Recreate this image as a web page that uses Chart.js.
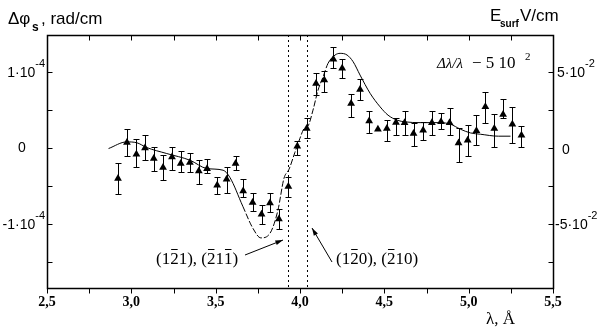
<!DOCTYPE html>
<html>
<head>
<meta charset="utf-8">
<script src="https://cdn.jsdelivr.net/npm/chart.js@4"></script>
<style>
  body { margin: 0; background: #fff; }
  #wrap { width: 600px; height: 329px; }
</style>
</head>
<body>
<div id="wrap"><canvas id="c"></canvas></div>
<script>
// measured points, delta phi in units of 1e-4 rad/cm
const lambda = [2.921, 2.974, 3.030, 3.081, 3.133, 3.188, 3.241, 3.293, 3.347, 3.400, 3.449, 3.509, 3.565, 3.618, 3.663, 3.719, 3.772, 3.822, 3.875, 3.931, 3.984, 4.040, 4.095, 4.144, 4.198, 4.250, 4.303, 4.356, 4.410, 4.462, 4.515, 4.569, 4.620, 4.673, 4.730, 4.782, 4.836, 4.887, 4.940, 4.994, 5.046, 5.099, 5.152, 5.204, 5.259, 5.313];
const dphi = [-0.399, 0.075, -0.079, 0.004, -0.136, -0.254, -0.114, -0.201, -0.188, -0.299, -0.27, -0.487, -0.408, -0.201, -0.562, -0.714, -0.868, -0.72, -0.93, -0.504, 0.026, 0.259, 0.851, 0.895, 1.167, 1.049, 0.588, 0.772, 0.359, 0.25, 0.259, 0.338, 0.333, 0.193, 0.237, 0.333, 0.346, 0.333, 0.07, 0.105, 0.228, 0.543, 0.259, 0.443, 0.316, 0.171];
const errHi = [-0.197, 0.25, 0.118, 0.171, 0.017, -0.092, 0.017, -0.036, -0.062, -0.158, -0.138, -0.378, -0.246, -0.101, -0.404, -0.588, -0.75, -0.583, -0.793, -0.375, 0.092, 0.391, 0.983, 1.017, 1.333, 1.171, 0.711, 0.908, 0.491, 0.25, 0.368, 0.391, 0.491, 0.325, 0.346, 0.491, 0.464, 0.522, 0.272, 0.303, 0.434, 0.741, 0.447, 0.645, 0.543, 0.293];
const errLo = [-0.605, -0.105, -0.25, -0.158, -0.303, -0.412, -0.28, -0.312, -0.312, -0.474, -0.329, -0.605, -0.583, -0.289, -0.641, -0.825, -0.991, -0.838, -1.057, -0.641, -0.092, 0.132, 0.697, 0.741, 1.049, 0.917, 0.412, 0.632, 0.201, 0.25, 0.092, 0.171, 0.171, 0.026, 0.114, 0.171, 0.246, 0.171, -0.18, -0.105, 0.039, 0.325, 0.017, 0.395, 0.07, 0.017];

// calculated curve
const fitLambda = [2.865, 2.972, 3.032, 3.091, 3.210, 3.348, 3.448, 3.544, 3.584, 3.661, 3.721, 3.768, 3.822, 3.869, 3.905, 3.935, 3.970, 4.000, 4.024, 4.047, 4.077, 4.107, 4.137, 4.166, 4.208, 4.238, 4.279, 4.315, 4.356, 4.416, 4.475, 4.522, 4.576, 4.624, 4.713, 4.832, 4.891, 4.951, 5.010, 5.069, 5.176, 5.248];
const fitE = [-0.004, 0.083, 0.072, 0.009, -0.07, -0.158, -0.267, -0.289, -0.382, -0.763, -1.053, -1.178, -1.118, -0.816, -0.395, -0.276, -0.053, 0.132, 0.257, 0.289, 0.5, 0.763, 0.938, 1.114, 1.224, 1.246, 1.224, 1.136, 0.961, 0.72, 0.543, 0.434, 0.368, 0.346, 0.336, 0.336, 0.316, 0.25, 0.201, 0.184, 0.158, 0.158];

// axes
const xMajor = [2.5, 3.0, 3.5, 4.0, 4.5, 5.0, 5.5];
const xLabels = ['2,5', '3,0', '3,5', '4,0', '4,5', '5,0', '5,5'];
const xMinor = [2.75, 3.25, 3.75, 4.25, 4.75, 5.25];
const yMajor = [1, 0, -1];
const yBase = ['1·10', '0', '-1·10'];
const yExp = ['-4', '', '-4'];
const yMinor = [0.5, -0.5, -1.5];
const y2Major = [5, 0, -5];
const y2Base = ['5·10', '0', '-5·10'];
const y2Exp = ['-2', '', '-2'];
const y2Minor = [2.5, -2.5, -7.5];
const markerLines = [3.930, 4.039];

const points = lambda.map((x, i) => ({ x: x, y: dphi[i] }));
const curve = fitLambda.map((x, i) => ({ x: x, y: fitE[i] }));

function overText(ctx, parts, x, y) {
    let cx = x;
    parts.forEach(([t, bar]) => {
        const w = ctx.measureText(t).width;
        ctx.fillText(t, cx, y);
        if (bar) {
            ctx.beginPath();
            ctx.moveTo(cx + 1, y - 14.5);
            ctx.lineTo(cx + w - 1, y - 14.5);
            ctx.stroke();
        }
        cx += w;
    });
}

function arrow(ctx, x1, y1, x2, y2) {
    ctx.beginPath();
    ctx.moveTo(x1, y1);
    ctx.lineTo(x2, y2);
    ctx.stroke();
    const a = Math.atan2(y2 - y1, x2 - x1);
    ctx.beginPath();
    ctx.moveTo(x2, y2);
    ctx.lineTo(x2 - 8 * Math.cos(a - 0.3), y2 - 8 * Math.sin(a - 0.3));
    ctx.lineTo(x2 - 8 * Math.cos(a + 0.3), y2 - 8 * Math.sin(a + 0.3));
    ctx.closePath();
    ctx.fill();
}

const decor = {
    id: 'decor',
    beforeDatasetsDraw(chart) {
        const { ctx, chartArea: a, scales } = chart;
        const x = scales.x, y = scales.y;
        ctx.save();
        ctx.strokeStyle = '#000';
        ctx.lineWidth = 1;
        // dotted marker lines
        ctx.setLineDash([2, 3]);
        markerLines.forEach(v => {
            const px = Math.round(x.getPixelForValue(v)) + 0.5;
            ctx.beginPath();
            ctx.moveTo(px, a.top);
            ctx.lineTo(px, a.bottom);
            ctx.stroke();
        });
        ctx.setLineDash([]);
        // error bars
        lambda.forEach((v, i) => {
            if (errHi[i] === errLo[i]) return;
            const px = Math.round(x.getPixelForValue(v)) + 0.5;
            const t = Math.round(y.getPixelForValue(errHi[i])) + 0.5;
            const b = Math.round(y.getPixelForValue(errLo[i])) + 0.5;
            ctx.beginPath();
            ctx.moveTo(px, t); ctx.lineTo(px, b);
            ctx.moveTo(px - 3, t); ctx.lineTo(px + 3, t);
            ctx.moveTo(px - 3, b); ctx.lineTo(px + 3, b);
            ctx.stroke();
        });
        ctx.restore();
    },
    afterDraw(chart) {
        const { ctx, chartArea: a, scales } = chart;
        const x = scales.x, y = scales.y, y2 = scales.y2;
        ctx.save();
        ctx.strokeStyle = '#000';
        ctx.fillStyle = '#000';
        ctx.lineWidth = 1;
        const L = Math.round(a.left) + 0.5, R = Math.round(a.right) + 0.5;
        const T = Math.round(a.top) + 0.5, B = Math.round(a.bottom) + 0.5;
        ctx.lineWidth = 1.5;
        ctx.strokeRect(L, T, R - L, B - T);
        ctx.lineWidth = 1;

        ctx.beginPath();
        xMajor.concat(xMinor).forEach(v => {
            const px = Math.round(x.getPixelForValue(v)) + 0.5;
            ctx.moveTo(px, B); ctx.lineTo(px, B + 5);
            ctx.moveTo(px, T); ctx.lineTo(px, T + 5);
        });
        yMajor.concat(yMinor).forEach(v => {
            const py = Math.round(y.getPixelForValue(v)) + 0.5;
            ctx.moveTo(L, py); ctx.lineTo(L + 5, py);
        });
        y2Major.concat(y2Minor).forEach(v => {
            const py = Math.round(y2.getPixelForValue(v)) + 0.5;
            ctx.moveTo(R, py); ctx.lineTo(R - 5, py);
        });
        ctx.stroke();

        // x tick labels
        ctx.font = 'bold 14px "Liberation Serif", serif';
        ctx.textAlign = 'center';
        ctx.textBaseline = 'alphabetic';
        xMajor.forEach((v, i) => {
            ctx.fillText(xLabels[i], x.getPixelForValue(v), 306);
        });

        // left tick labels
        yMajor.forEach((v, i) => {
            const py = y.getPixelForValue(v);
            ctx.font = '14px "Liberation Sans", sans-serif';
            ctx.textAlign = 'left';
            if (!yExp[i]) { ctx.fillText(yBase[i], 18, py + 4); return; }
            ctx.font = '11px "Liberation Sans", sans-serif';
            const ew = ctx.measureText(yExp[i]).width;
            ctx.fillText(yExp[i], 45 - ew, py - 5);
            ctx.font = '14px "Liberation Sans", sans-serif';
            const bw = ctx.measureText(yBase[i]).width;
            ctx.fillText(yBase[i], 45 - ew - bw, py + 5);
        });
        // right tick labels
        y2Major.forEach((v, i) => {
            const py = y2.getPixelForValue(v);
            ctx.font = '14px "Liberation Sans", sans-serif';
            ctx.textAlign = 'left';
            if (!y2Exp[i]) { ctx.fillText(y2Base[i], 562, py + 6); return; }
            const bw = ctx.measureText(y2Base[i]).width;
            const x0 = y2Base[i].startsWith('-') ? 555 : 557;
            ctx.fillText(y2Base[i], x0, py + 5);
            ctx.font = '11px "Liberation Sans", sans-serif';
            ctx.fillText(y2Exp[i], x0 + bw, py - 5);
        });

        // axis titles
        ctx.textAlign = 'left';
        ctx.font = '17px "Liberation Sans", sans-serif';
        ctx.fillText('Δφ', 8, 24);
        ctx.font = 'bold 12px "Liberation Sans", sans-serif';
        ctx.fillText('s', 32, 31);
        ctx.font = '17px "Liberation Sans", sans-serif';
        ctx.fillText(', rad/cm', 41, 24);

        ctx.font = '17px "Liberation Sans", sans-serif';
        ctx.fillText('E', 490, 21);
        ctx.font = 'bold 10px "Liberation Sans", sans-serif';
        ctx.fillText('surf', 500, 27);
        ctx.font = '17px "Liberation Sans", sans-serif';
        ctx.fillText('V/cm', 520, 21);

        ctx.font = '17px "Liberation Serif", serif';
        ctx.fillText('λ, Å', 486, 324);

        // resolution note
        ctx.font = 'italic 15px "Liberation Serif", serif';
        ctx.fillText('Δλ/λ', 437, 68);
        ctx.font = '17px "Liberation Serif", serif';
        ctx.fillText('− 5 10', 472, 68);
        ctx.font = '11px "Liberation Serif", serif';
        ctx.fillText('2', 525, 60);

        // plane labels
        ctx.font = '17px "Liberation Serif", serif';
        ctx.lineWidth = 1;
        overText(ctx, [['(1', 0], ['2', 1], ['1), (', 0], ['2', 1], ['1', 0], ['1', 1], [')', 0]], 156, 264);
        overText(ctx, [['(1', 0], ['2', 1], ['0), (', 0], ['2', 1], ['10)', 0]], 336, 264);
        arrow(ctx, 245, 255, 283, 240);
        arrow(ctx, 332, 262, 312, 228);
        ctx.restore();
    }
};

new Chart(document.getElementById('c'), {
    data: {
        datasets: [
            {
                type: 'scatter',
                data: points,
                pointStyle: 'triangle',
                pointRadius: 4.5,
                backgroundColor: '#000',
                borderColor: '#000',
                borderWidth: 0
            },
            {
                type: 'line',
                data: curve,
                borderColor: '#000',
                borderWidth: 1,
                pointRadius: 0,
                fill: false,
                cubicInterpolationMode: 'monotone',
                segment: {
                    borderDash: ctx => (ctx.p0.parsed.x >= 3.6 && ctx.p1.parsed.x <= 4.17) ? [6, 2] : undefined
                }
            }
        ]
    },
    options: {
        responsive: true,
        maintainAspectRatio: false,
        animation: false,
        layout: { padding: { left: 47, right: 47, top: 35, bottom: 41 } },
        plugins: { legend: { display: false }, tooltip: { enabled: false } },
        scales: {
            x: { type: 'linear', min: 2.5, max: 5.5, display: false },
            y: { type: 'linear', min: -1.836, max: 1.487, display: false },
            y2: { type: 'linear', position: 'right', min: -9.18, max: 7.435, display: false }
        }
    },
    plugins: [decor]
});
</script>
</body>
</html>
